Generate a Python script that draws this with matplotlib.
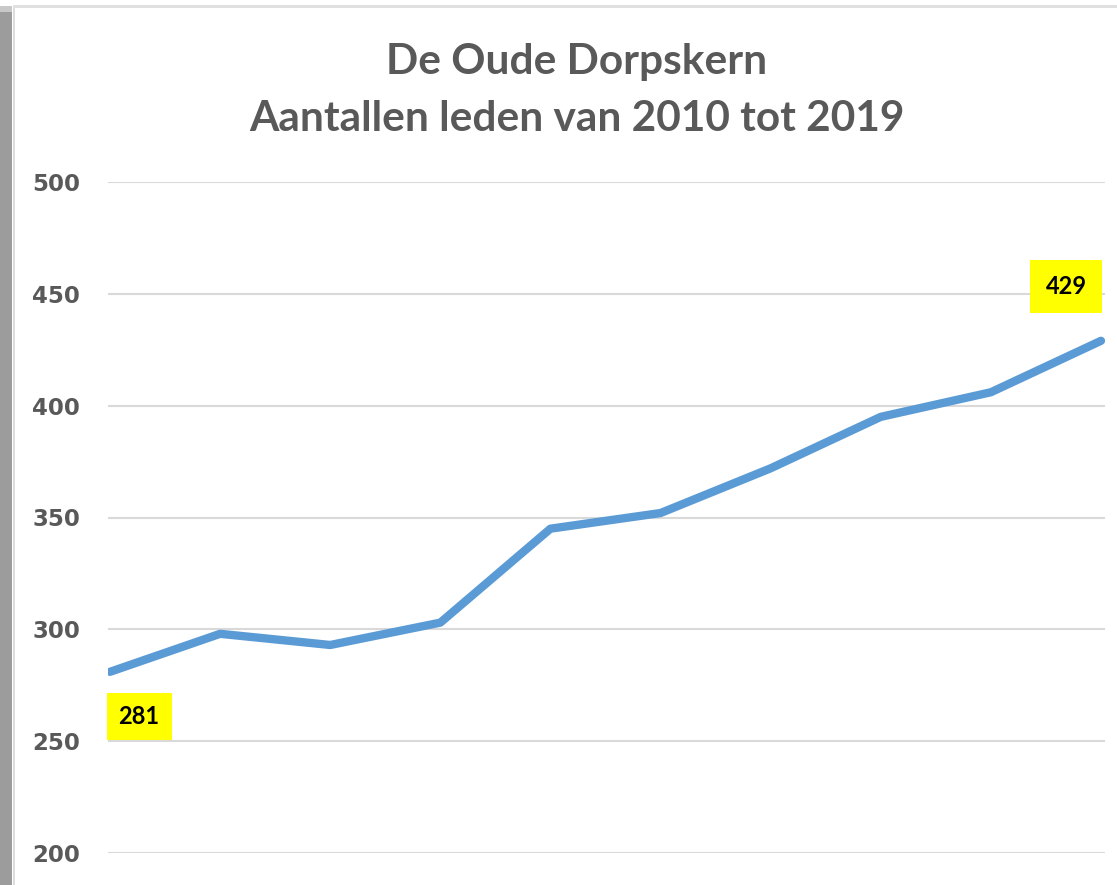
import matplotlib
matplotlib.use("Agg")
import matplotlib.pyplot as plt
from matplotlib.patches import Rectangle

years = [2010, 2011, 2012, 2013, 2014, 2015, 2016, 2017, 2018, 2019]
members = [281, 298, 293, 303, 345, 352, 372, 395, 406, 429]
yticks = [200, 250, 300, 350, 400, 450, 500]
title_lines = ["De Oude Dorpskern", "Aantallen leden van 2010 tot 2019"]

W, H = 1117, 885
fig = plt.figure(figsize=(W / 100, H / 100), dpi=100, facecolor="white")

# frame decorations (shadow strip on the left, light top / left edges)
fig.patches.append(Rectangle((0, 0), 12 / W, 1 - 12 / H, transform=fig.transFigure,
                             facecolor="#9c9c9c", edgecolor="none", zorder=0))
fig.patches.append(Rectangle((0, 1 - 12 / H), 12 / W, 6 / H, transform=fig.transFigure,
                             facecolor="#c8c8c8", edgecolor="none", zorder=0))
fig.patches.append(Rectangle((13 / W, 0), 2 / W, 1 - 5 / H, transform=fig.transFigure,
                             facecolor="#dcdcdc", edgecolor="none", zorder=0))
fig.patches.append(Rectangle((13 / W, 1 - 8 / H), 1 - 13 / W, 3 / H, transform=fig.transFigure,
                             facecolor="#e0e0e0", edgecolor="none", zorder=0))

ax = fig.add_axes([108 / W, 1 - 853 / H, (1105 - 108) / W, (853 - 182) / H])
ax.set_facecolor("none")
ax.plot(years, members, color="#5b9bd5", linewidth=6, solid_capstyle="round",
        solid_joinstyle="round", zorder=3)

px_per_year = 991 / 9
ax.set_xlim(years[0] - 2 / px_per_year, years[-1] + 4 / px_per_year)
ax.set_ylim(200, 500)
ax.set_yticks(yticks)
ax.set_xticks([])
ax.grid(axis="y", color="#d9d9d9", linewidth=1.5, zorder=1)
for s in ax.spines.values():
    s.set_visible(False)
ax.tick_params(axis="y", length=0, pad=20, labelsize=16.5, labelcolor="#595959")
for lab in ax.get_yticklabels():
    lab.set_fontfamily("DejaVu Sans")
    lab.set_fontweight("bold")

box = dict(boxstyle="square,pad=0.5", facecolor="#ffff00", edgecolor="none")
ax.annotate(str(members[0]), (years[0], members[0]), xytext=(21, -32),
            textcoords="offset points", ha="center", va="center",
            fontsize=17, fontweight="bold", fontfamily="Lato", color="black",
            bbox=box, zorder=4)
ax.annotate(str(members[-1]), (years[-1], members[-1]), xytext=(-25, 39),
            textcoords="offset points", ha="center", va="center",
            fontsize=17, fontweight="bold", fontfamily="Lato", color="black",
            bbox=dict(boxstyle="square,pad=0.65", facecolor="#ffff00", edgecolor="none"),
            zorder=4)

fig.text(577 / W, 1 - 62 / H, title_lines[0], ha="center", va="center",
         fontsize=30.5, fontweight="bold", fontfamily="Lato", color="#595959")
fig.text(577 / W, 1 - 119 / H, title_lines[1], ha="center", va="center",
         fontsize=30.5, fontweight="bold", fontfamily="Lato", color="#595959")

fig.savefig("out.png", dpi=100, facecolor="white")
